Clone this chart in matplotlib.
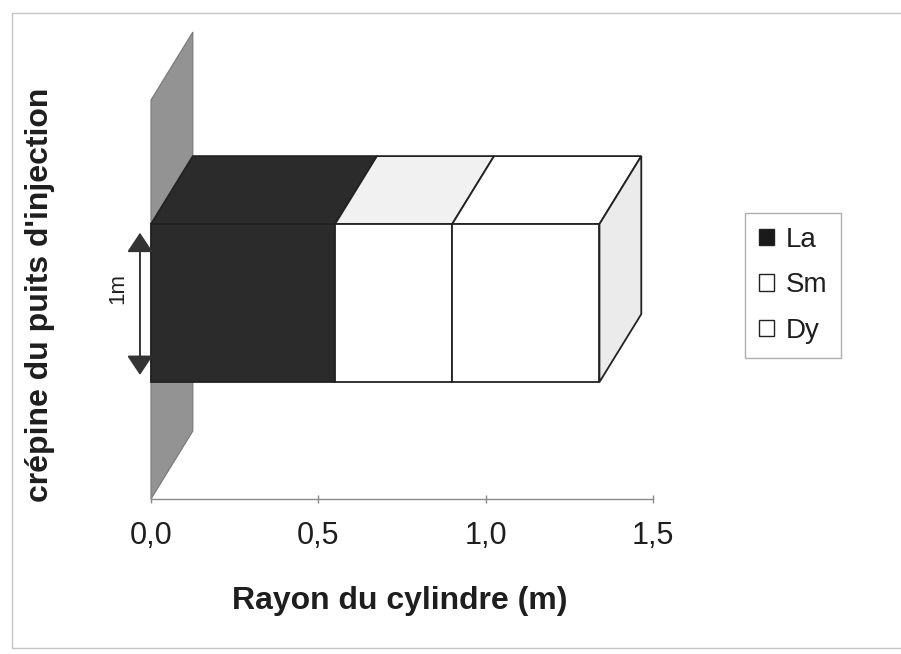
import matplotlib
matplotlib.use("Agg")
import matplotlib.pyplot as plt
from matplotlib.patches import Polygon, Patch, Rectangle

plt.rcParams['font.family'] = ['Liberation Sans', 'DejaVu Sans']

# Data: radial extent of each tracer zone (m), stacked from the well
elements = ["La", "Sm", "Dy"]
widths = [0.55, 0.35, 0.44]
front_colors = ["#2b2b2b", "#ffffff", "#ffffff"]
top_colors = ["#2b2b2b", "#f1f1f1", "#ffffff"]
side_color = "#ebebeb"
legend_colors = ["#1a1a1a", "#ffffff", "#ffffff"]
xticks = [0.0, 0.5, 1.0, 1.5]
xtick_labels = ["0,0", "0,5", "1,0", "1,5"]

# Oblique projection of the depth axis (x in m, y in bar heights)
DX, DY = 0.125, 0.43
FLOOR, PLANE_TOP = -0.74, 1.785

fig = plt.figure(figsize=(9.01, 6.54), dpi=100)
ax = fig.add_axes([151 / 901, 1 - 499 / 654, 502 / 901, 469 / 654])
ax.set_xlim(0, 1.5)
ax.set_ylim(FLOOR, 2.228)

# Well screen plane at r = 0
plane = Polygon([(0, FLOOR), (DX, FLOOR + DY), (DX, PLANE_TOP + DY), (0, PLANE_TOP)],
                closed=True, facecolor="#939393", edgecolor="#777777", lw=0.8,
                clip_on=False, zorder=1)
ax.add_patch(plane)

# Stacked 3D bar
x0 = 0.0
for i, (w, fc, tc) in enumerate(zip(widths, front_colors, top_colors)):
    x1 = x0 + w
    top = Polygon([(x0, 1), (x1, 1), (x1 + DX, 1 + DY), (x0 + DX, 1 + DY)],
                  closed=True, facecolor=tc, edgecolor="#222222", lw=1.3,
                  clip_on=False, zorder=2)
    front = Rectangle((x0, 0), w, 1, facecolor=fc, edgecolor="#222222", lw=1.3,
                      clip_on=False, zorder=3)
    ax.add_patch(top)
    ax.add_patch(front)
    if i == len(widths) - 1:
        side = Polygon([(x1, 0), (x1 + DX, DY), (x1 + DX, 1 + DY), (x1, 1)],
                       closed=True, facecolor=side_color, edgecolor="#222222", lw=1.3,
                       clip_on=False, zorder=2)
        ax.add_patch(side)
    x0 = x1

# 1 m height marker
ax.annotate("", xy=(-0.033, 0.045), xytext=(-0.033, 0.945),
            arrowprops=dict(arrowstyle="<|-|>,head_length=0.75,head_width=0.5",
                            mutation_scale=16, color="#333333", lw=1.4,
                            shrinkA=0, shrinkB=0),
            annotation_clip=False)
ax.text(-0.098, 0.595, "1m", rotation=90, ha="center", va="center",
        fontsize=16, color="#222222", clip_on=False)

# Axis styling
for s in ("top", "left", "right"):
    ax.spines[s].set_visible(False)
ax.spines["bottom"].set_color("#8a8a8a")
ax.spines["bottom"].set_linewidth(1.0)
ax.set_yticks([])
ax.set_xticks(xticks)
ax.set_xticklabels(xtick_labels, fontsize=22, color="#1e1e1e")
ax.tick_params(axis="x", direction="inout", length=6, width=1, color="#8a8a8a", pad=13)
ax.patch.set_visible(False)

fig.text(400 / 901, 1 - 601 / 654, "Rayon du cylindre (m)", ha="center", va="center",
         fontsize=23, fontweight="bold", color="#1e1e1e")
fig.text(40 / 901, 1 - 295 / 654, "crépine du puits d'injection", ha="center", va="center",
         rotation=90, fontsize=23, fontweight="bold", color="#1e1e1e")

handles = [Patch(facecolor=c, edgecolor="#222222", lw=1.0) for c in legend_colors]
leg = fig.legend(handles, elements, loc="upper left",
                 bbox_to_anchor=(745 / 901, 1 - 213 / 654), borderaxespad=0,
                 fontsize=20, frameon=True, fancybox=False, handlelength=0.55,
                 handleheight=0.55, handletextpad=0.4, labelspacing=0.7,
                 borderpad=0.5)
leg.get_frame().set_edgecolor("#9a9a9a")
leg.get_frame().set_linewidth(1.0)
for t in leg.get_texts():
    t.set_color("#1e1e1e")

# Chart-area border
fig.patches.append(Rectangle((12 / 901, 1 - 648 / 654), 895 / 901, 635 / 654,
                             transform=fig.transFigure, fill=False,
                             edgecolor="#c4c4c4", lw=1.0))

fig.savefig("out.png", dpi=100)
